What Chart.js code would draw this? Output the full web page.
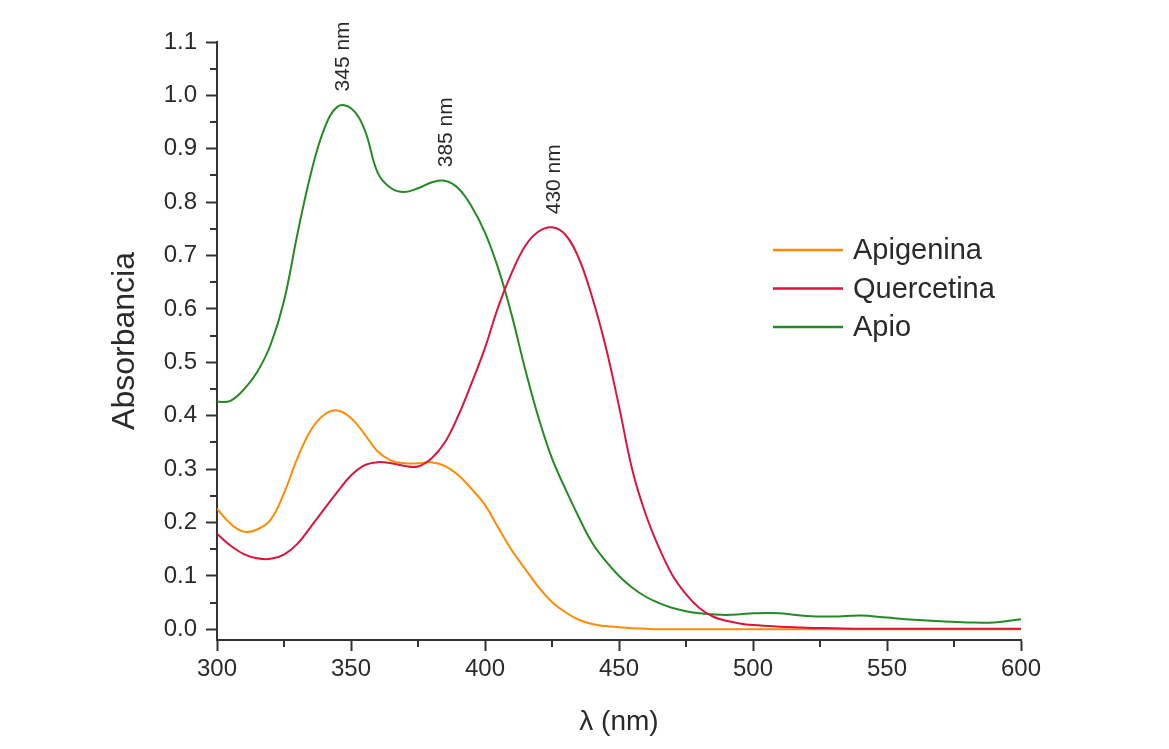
<!DOCTYPE html>
<html lang="es">
<head>
<meta charset="UTF-8">
<title>Espectros de absorción</title>
<script src="https://cdn.jsdelivr.net/npm/chart.js"></script>
<style>
    body {
        margin: 0;
        background: #fff;
    }
    .chart-box {
        position: relative;
        width: 1169px;
        height: 749px;
    }
</style>
</head>
<body>
<div class="chart-box"><canvas id="spectra"></canvas></div>
<script>
// wavelengths (nm), shared by the three spectra
const wavelengths = [
    300, 305, 310, 315, 320, 325, 330, 335, 340, 345,
    350, 355, 360, 365, 370, 375, 380, 385, 390, 395,
    400, 405, 410, 415, 420, 425, 430, 435, 440, 445,
    450, 455, 460, 465, 470, 475, 480, 485, 490, 495,
    500, 510, 520, 530, 540, 550, 560, 570, 580, 590, 600
];
const apigenina = [
    0.226, 0.198, 0.183, 0.187, 0.205, 0.255, 0.320, 0.373, 0.402, 0.410,
    0.396, 0.366, 0.333, 0.316, 0.311, 0.311, 0.313, 0.306, 0.289, 0.263,
    0.233, 0.190, 0.148, 0.113, 0.079, 0.051, 0.032, 0.018, 0.010, 0.006,
    0.004, 0.002, 0.001, 0.000, 0.000, 0.000, 0.000, 0.000, 0.000, 0.000,
    0.000, 0.000, 0.000, 0.000, 0.000, 0.000, 0.000, 0.000, 0.000, 0.000, 0.000
];
const quercetina = [
    0.179, 0.157, 0.141, 0.133, 0.132, 0.140, 0.160, 0.192, 0.225, 0.258,
    0.288, 0.307, 0.313, 0.311, 0.306, 0.305, 0.320, 0.350, 0.400, 0.461,
    0.527, 0.605, 0.668, 0.718, 0.745, 0.753, 0.739, 0.695, 0.622, 0.530,
    0.418, 0.298, 0.215, 0.152, 0.101, 0.066, 0.040, 0.024, 0.016, 0.011,
    0.008, 0.005, 0.003, 0.002, 0.001, 0.001, 0.001, 0.001, 0.001, 0.001, 0.001
];
const apio = [
    0.426, 0.428, 0.449, 0.482, 0.533, 0.615, 0.740, 0.853, 0.937, 0.979,
    0.976, 0.937, 0.855, 0.826, 0.819, 0.826, 0.837, 0.840, 0.826, 0.792,
    0.743, 0.675, 0.588, 0.487, 0.396, 0.320, 0.263, 0.210, 0.162, 0.128,
    0.100, 0.078, 0.061, 0.049, 0.040, 0.034, 0.030, 0.028, 0.027, 0.028,
    0.030, 0.030, 0.025, 0.024, 0.026, 0.022, 0.018, 0.015, 0.013, 0.013, 0.019
];
const seriesNames = ["Apigenina", "Quercetina", "Apio"];
const seriesColors = ["#ff8c00", "#dc143c", "#228b22"];

const xTickValues = [300, 350, 400, 450, 500, 550, 600];
const yTickValues = [0.0, 0.1, 0.2, 0.3, 0.4, 0.5, 0.6, 0.7, 0.8, 0.9, 1.0, 1.1];

const peakLabels = ["345 nm", "385 nm", "430 nm"];
const peakX = [347, 385.5, 426];
const peakY = [0.983, 0.841, 0.753];

const fontFamily = "'Liberation Sans', Arial, sans-serif";
const axisColor = "#333";
const textColor = "#2a2a2a";

function toPoints(values) {
    return wavelengths.map((w, i) => ({ x: w, y: values[i] }));
}

// half-step ticks between the labelled ones, shorter
const minorTicks = {
    id: "minorTicks",
    afterDraw(chart) {
        const { ctx, chartArea, scales } = chart;
        ctx.save();
        ctx.strokeStyle = axisColor;
        ctx.lineWidth = 2;
        ctx.beginPath();
        for (let i = 0; i < xTickValues.length - 1; i++) {
            const px = Math.round(scales.x.getPixelForValue((xTickValues[i] + xTickValues[i + 1]) / 2));
            ctx.moveTo(px, chartArea.bottom);
            ctx.lineTo(px, chartArea.bottom + 7);
        }
        for (let i = 0; i < yTickValues.length - 1; i++) {
            const py = Math.round(scales.y.getPixelForValue((yTickValues[i] + yTickValues[i + 1]) / 2));
            ctx.moveTo(chartArea.left, py);
            ctx.lineTo(chartArea.left - 7, py);
        }
        ctx.stroke();
        ctx.restore();
    }
};

// vertical "nnn nm" notes above the maxima
const peakNotes = {
    id: "peakNotes",
    afterDatasetsDraw(chart) {
        const { ctx, scales } = chart;
        ctx.save();
        ctx.font = "21px " + fontFamily;
        ctx.fillStyle = textColor;
        ctx.textAlign = "left";
        ctx.textBaseline = "middle";
        peakLabels.forEach((txt, i) => {
            ctx.save();
            ctx.translate(scales.x.getPixelForValue(peakX[i]), scales.y.getPixelForValue(peakY[i]) - 13);
            ctx.rotate(-Math.PI / 2);
            ctx.fillText(txt, 0, 0);
            ctx.restore();
        });
        ctx.restore();
    }
};

// legend sitting inside the plot, right side
const sideLegend = {
    id: "sideLegend",
    afterDraw(chart) {
        const { ctx } = chart;
        const x0 = 773, lineLen = 70, y0 = 250, rowGap = 38.5;
        ctx.save();
        ctx.font = "29px " + fontFamily;
        ctx.textAlign = "left";
        ctx.textBaseline = "middle";
        chart.data.datasets.forEach(ds => {
            const row = seriesNames.indexOf(ds.label);
            const y = y0 + row * rowGap;
            ctx.strokeStyle = ds.borderColor;
            ctx.lineWidth = 2.5;
            ctx.beginPath();
            ctx.moveTo(x0, y);
            ctx.lineTo(x0 + lineLen, y);
            ctx.stroke();
            ctx.fillStyle = textColor;
            ctx.fillText(ds.label, x0 + lineLen + 10, y + 1);
        });
        ctx.restore();
    }
};

const ctx = document.getElementById("spectra").getContext("2d");
new Chart(ctx, {
    type: "line",
    data: {
        datasets: [
            { label: seriesNames[0], data: toPoints(apigenina), borderColor: seriesColors[0], order: 2 },
            { label: seriesNames[1], data: toPoints(quercetina), borderColor: seriesColors[1], order: 0 },
            { label: seriesNames[2], data: toPoints(apio), borderColor: seriesColors[2], order: 1 }
        ]
    },
    options: {
        responsive: true,
        maintainAspectRatio: false,
        animation: false,
        layout: { padding: { top: 42, right: 148, left: 0, bottom: 0 } },
        elements: {
            line: { borderWidth: 2, fill: false, tension: 0.4 },
            point: { radius: 0 }
        },
        plugins: {
            legend: { display: false },
            tooltip: { enabled: false }
        },
        scales: {
            x: {
                type: "linear",
                min: 300,
                max: 600,
                afterBuildTicks: s => { s.ticks = xTickValues.map(v => ({ value: v })); },
                afterFit: s => { s.height = 109; },
                grid: { drawOnChartArea: false, drawTicks: true, tickLength: 11, tickWidth: 2, tickColor: axisColor },
                border: { display: true, color: axisColor, width: 2 },
                ticks: { color: textColor, font: { size: 24, family: fontFamily }, padding: 4, maxRotation: 0 },
                title: {
                    display: true, text: "λ (nm)", color: textColor,
                    font: { size: 28, family: fontFamily }, padding: { top: 0, bottom: 10 }
                }
            },
            y: {
                type: "linear",
                min: -0.02,
                max: 1.1,
                afterBuildTicks: s => { s.ticks = yTickValues.map(v => ({ value: v })); },
                afterFit: s => { s.width = 217; },
                grid: { drawOnChartArea: false, drawTicks: true, tickLength: 11, tickWidth: 2, tickColor: axisColor },
                border: { display: true, color: axisColor, width: 2 },
                ticks: {
                    color: textColor, font: { size: 24, family: fontFamily }, padding: 9,
                    callback: v => Number(v).toFixed(1)
                },
                title: {
                    display: true, text: "Absorbancia", color: textColor,
                    font: { size: 32, family: fontFamily }, padding: { top: 106, bottom: 0 }
                }
            }
        }
    },
    plugins: [minorTicks, peakNotes, sideLegend]
});
</script>
</body>
</html>
